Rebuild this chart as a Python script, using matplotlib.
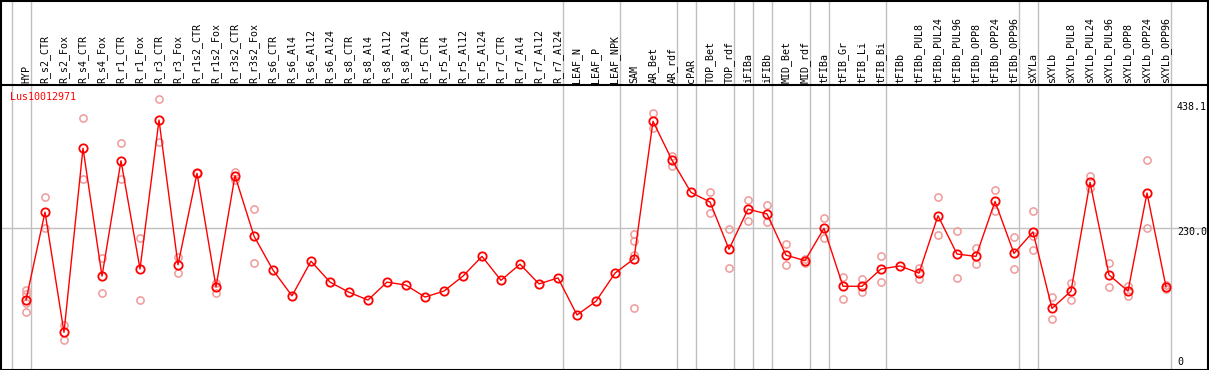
import numpy as np
import matplotlib
matplotlib.use('Agg')
import matplotlib.pyplot as plt

# Data
categories = ['HYP', 'R_s2_CTR', 'R_s2_Fox', 'R_s4_CTR', 'R_s4_Fox', 'R_r1_CTR', 'R_r1_Fox',
              'R_r3_CTR', 'R_r3_Fox', 'R_r1s2_CTR', 'R_r1s2_Fox', 'R_r3s2_CTR', 'R_r3s2_Fox',
              'R_s6_CTR', 'R_s6_Al4', 'R_s6_Al12', 'R_s6_Al24', 'R_s8_CTR', 'R_s8_Al4',
              'R_s8_Al12', 'R_s8_Al24', 'R_r5_CTR', 'R_r5_Al4', 'R_r5_Al12', 'R_r5_Al24',
              'R_r7_CTR', 'R_r7_Al4', 'R_r7_Al12', 'R_r7_Al24', 'LEAF_N', 'LEAF_P', 'LEAF_NPK',
              'SAM', 'AR_Bet', 'AR_rdf', 'cPAR', 'TOP_Bet', 'TOP_rdf', 'iFIBa', 'iFIBb',
              'MID_Bet', 'MID_rdf', 'tFIBa', 'tFIB_Gr', 'tFIB_Li', 'tFIB_Bi', 'tFIBb',
              'tFIBb_PUL8', 'tFIBb_PUL24', 'tFIBb_PUL96', 'tFIBb_OPP8', 'tFIBb_OPP24',
              'tFIBb_OPP96', 'sXYLa', 'sXYLb', 'sXYLb_PUL8', 'sXYLb_PUL24', 'sXYLb_PUL96',
              'sXYLb_OPP8', 'sXYLb_OPP24', 'sXYLb_OPP96']

means = [110, 257, 56, 364, 150, 343, 162, 411, 169, 322, 132, 318, 217,
         160, 117, 175, 140, 123, 110, 140, 135, 115, 125, 150, 183,
         143, 170, 137, 147, 85, 108, 155,
         179, 409, 344, 290, 274, 195, 262, 254, 185, 176,
         230, 133, 133, 162, 167, 155, 251, 187, 183, 275, 188,
         224, 96, 125, 307, 152, 125, 289, 132]

replicates = [[127, 120, 105, 90], [283, 230], [69, 43], [414, 312], [180, 121],
              [372, 312], [213, 110], [447, 374], [182, 155], [323, 322], [139, 122],
              [324, 311], [263, 172],
              [], [], [], [], [], [], [], [], [], [], [], [], [], [], [], [],
              [], [], [],
              [220, 209, 185, 96], [423, 397], [351, 335], [], [290, 255], [229, 164],
              [278, 243], [269, 240], [203, 168], [179, 172],
              [248, 213], [148, 111], [145, 124], [183, 140], [],
              [164, 146], [282, 218], [225, 147], [197, 171], [294, 259], [215, 162],
              [259, 217, 193], [115, 78], [138, 110], [317, 298], [172, 132],
              [133, 116], [345, 230], [135, 128]]

gene = 'Lus10012971'
y_ticks = [438.1, 230.0, 0]
group_ends = [-1, 0, 28, 31, 34, 35, 37, 38, 39, 41, 42, 45, 52, 53, 60]

W, H = 1209, 370
fig = plt.figure(figsize=(W / 100, H / 100), dpi=100)
mono = 'DejaVu Sans Mono'
fs = 7.2

x = np.arange(len(categories))
xlim = ((1 - 26) / 19, (1207 - 26) / 19)
ylim = (-5.35, 469.7)

# header with rotated labels (pixel rows 0..85)
hax = fig.add_axes([1 / W, 285 / H, 1206 / W, 85 / H])
hax.set_xlim(xlim)
hax.set_ylim(85, 0)
hax.axis('off')
for b in group_ends:
    hax.axvline(b + 0.25, color='#c0c0c0', lw=1)
for xi, lab in zip(x, categories):
    hax.text(xi, 83, lab, rotation=90, ha='center', va='bottom',
             family=mono, fontsize=fs, color='black')

# plot area (pixel rows 85..369)
ax = fig.add_axes([1 / W, 1 / H, 1206 / W, 284 / H])
ax.set_xlim(xlim)
ax.set_ylim(ylim)
ax.set_xticks([])
ax.set_yticks([])
for s in ax.spines.values():
    s.set_visible(False)
for b in group_ends:
    ax.axvline(b + 0.25, color='#c0c0c0', lw=1, zorder=1)
ax.axhline(230.0, color='#c0c0c0', lw=1, zorder=1)

rx = [xi for xi, r in zip(x, replicates) for _ in r]
ry = [v for r in replicates for v in r]
ax.plot(rx, ry, 'o', ls='none', mfc='none', mec='#f09a9a', ms=5.2, mew=1.1, zorder=2)
ax.plot(x, means, '-o', color='red', lw=1, mfc='none', mec='red', ms=6, mew=1.3, zorder=3)

ax.text(10 / 19 - 26 / 19, 0.957, gene, transform=ax.get_xaxis_transform(),
        color='red', family=mono, fontsize=fs, ha='left', va='center')
offsets = [-3.5, -3.5, 4]
for v, off in zip(y_ticks, offsets):
    lab = '0' if v == 0 else f'{v:.1f}'
    ax.annotate(lab, (xlim[0] + (1177 - 1) / 19, v), xytext=(0, off * 0.72),
                textcoords='offset points', ha='left', va='center',
                family=mono, fontsize=fs, color='black', zorder=4)

# outer frame and header separator
fig.add_artist(plt.Line2D([0, 1], [285 / H, 285 / H], color='black', lw=1.5))
fig.add_artist(plt.Rectangle((0.5 / W, 0.5 / H), 1207 / W, 369 / H, fill=False,
                             edgecolor='black', lw=1.5))

fig.savefig('out.png', dpi=100)
